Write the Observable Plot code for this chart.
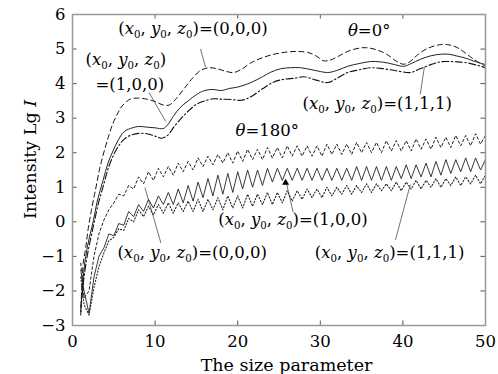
<!DOCTYPE html>
<html><head><meta charset="utf-8">
<script src="https://cdn.jsdelivr.net/npm/d3@7"></script>
<script src="https://cdn.jsdelivr.net/npm/@observablehq/plot@0.6"></script>
<style>body{margin:0;background:#fff} svg{display:block}</style>
</head><body><div id="chart"></div>
<script>
// ---- data ----
const xTicks = [0, 10, 20, 30, 40, 50];
const yTicks = [-3, -2, -1, 0, 1, 2, 3, 4, 5, 6];

// theta = 0 deg
const x0_000 = [1.0,1.3,1.6,1.9,2.3,2.8,3.3,3.9,4.4,4.9,5.5,6.0,7.0,8.0,9.0,10.0,11.0,11.7,12.5,13.5,14.5,15.5,16.5,17.5,18.5,19.5,20.5,21.6,23.0,25.0,27.0,28.5,29.5,30.4,31.2,32.1,33.5,35.3,36.8,38.1,39.2,40.1,41.0,41.8,43.0,44.6,45.6,46.6,47.6,48.6,50.0];
const y0_000 = [-2.7,-1.2,-0.75,-0.2,0.35,0.95,1.55,2.1,2.5,2.85,3.15,3.35,3.55,3.58,3.55,3.48,3.38,3.38,3.55,3.85,4.15,4.38,4.46,4.43,4.36,4.32,4.42,4.6,4.75,4.88,4.93,4.9,4.8,4.66,4.68,4.78,4.95,5.04,4.98,4.84,4.65,4.56,4.66,4.84,5.02,5.13,5.12,5.04,4.88,4.7,4.5];
const x0_100 = [1.0,1.3,1.6,2.0,2.5,3.0,3.7,4.3,4.9,5.5,6.2,7.0,8.0,9.0,10.0,11.0,11.5,12.2,13.0,14.0,15.0,16.0,17.0,18.0,19.0,20.0,21.6,23.0,24.0,25.2,26.4,27.6,29.0,30.0,30.9,32.0,33.3,34.7,36.1,37.2,38.1,39.0,40.1,41.0,42.1,43.3,44.6,45.6,46.5,47.4,48.6,50.0];
const y0_100 = [-2.5,-1.6,-1.0,-0.5,0.0,0.6,1.2,1.7,2.05,2.35,2.6,2.7,2.76,2.74,2.72,2.7,2.8,3.05,3.3,3.5,3.68,3.8,3.83,3.8,3.86,3.9,4.03,4.2,4.33,4.43,4.46,4.46,4.4,4.35,4.32,4.38,4.5,4.58,4.64,4.63,4.6,4.55,4.5,4.58,4.7,4.8,4.85,4.85,4.8,4.75,4.65,4.55];
const x0_111 = [1.0,1.3,1.7,2.1,2.6,3.1,3.8,4.4,5.0,5.6,6.2,7.0,8.0,9.0,10.0,10.8,11.5,12.3,13.1,14.0,15.0,16.0,17.0,18.0,19.2,20.5,21.6,23.0,24.4,25.5,27.0,28.0,29.5,30.9,32.0,33.3,34.7,36.1,37.3,38.5,39.7,40.9,42.0,43.4,44.5,45.4,46.6,47.8,49.0,50.0];
const y0_111 = [-2.6,-1.8,-1.1,-0.6,-0.05,0.5,1.1,1.6,1.95,2.2,2.38,2.5,2.56,2.55,2.48,2.42,2.5,2.75,2.98,3.2,3.4,3.5,3.56,3.55,3.54,3.52,3.62,3.85,4.05,4.12,4.16,4.2,4.1,4.03,4.15,4.32,4.4,4.46,4.44,4.4,4.35,4.32,4.42,4.55,4.63,4.64,4.63,4.6,4.53,4.46];

// theta = 180 deg (shared x samples)
const x180 = [1.0,1.4,2.0,2.6,3.2,3.8,4.4,5.0,5.6,6.2,6.8,7.4,8.0,8.6,9.2,9.8,10.4,11.0,11.6,12.2,12.8,13.4,14.0,14.6,15.2,15.8,16.4,17.0,17.6,18.2,18.8,19.4,20.0,20.6,21.2,21.8,22.4,23.0,23.6,24.2,24.8,25.4,26.0,26.6,27.2,27.8,28.4,29.0,29.6,30.2,30.8,31.4,32.0,32.6,33.2,33.8,34.4,35.0,35.6,36.2,36.8,37.4,38.0,38.6,39.2,39.8,40.4,41.0,41.6,42.2,42.8,43.4,44.0,44.6,45.2,45.8,46.4,47.0,47.6,48.2,48.8,49.4,50.0];
const y180_000 = [-1.2,-2.2,-2.0,-1.0,-0.35,0.05,0.35,0.55,0.8,0.75,1.05,0.95,1.3,1.1,1.45,1.2,1.55,1.3,1.6,1.35,1.7,1.45,1.75,1.5,1.85,1.6,1.9,1.65,1.95,1.7,2.0,1.7,2.05,1.75,2.1,1.8,2.1,1.8,2.15,1.85,2.15,1.85,2.2,1.9,2.2,1.9,2.2,1.9,2.2,1.9,2.25,1.95,2.25,1.95,2.25,1.95,2.3,2.0,2.3,2.0,2.3,2.0,2.35,2.05,2.35,2.05,2.35,2.05,2.4,2.1,2.4,2.1,2.45,2.15,2.45,2.15,2.5,2.2,2.5,2.2,2.55,2.25,2.5];
const y180_100 = [-1.4,-2.0,-2.65,-1.6,-1.0,-0.75,-0.35,-0.4,-0.05,-0.1,0.3,0.15,0.5,0.3,0.65,0.4,0.75,0.5,0.85,0.5,0.95,0.55,1.05,0.6,1.15,0.7,1.25,0.75,1.35,0.8,1.4,0.85,1.45,0.95,1.5,1.0,1.5,1.05,1.55,1.15,1.55,1.2,1.55,1.2,1.55,1.2,1.55,1.2,1.55,1.2,1.55,1.2,1.55,1.2,1.55,1.2,1.6,1.2,1.6,1.2,1.6,1.2,1.6,1.2,1.6,1.25,1.65,1.25,1.65,1.3,1.7,1.3,1.75,1.35,1.8,1.4,1.8,1.45,1.85,1.45,1.85,1.5,1.8];
const y180_111 = [-1.6,-2.4,-2.7,-1.9,-1.3,-0.9,-0.55,-0.45,-0.2,-0.25,0.1,0.0,0.35,0.15,0.45,0.2,0.5,0.25,0.55,0.25,0.55,0.3,0.6,0.3,0.65,0.3,0.65,0.35,0.7,0.35,0.75,0.4,0.75,0.4,0.8,0.45,0.8,0.5,0.85,0.5,0.85,0.55,0.9,0.6,0.9,0.65,0.95,0.7,0.95,0.7,1.0,0.75,1.0,0.8,1.05,0.8,1.05,0.85,1.1,0.85,1.1,0.9,1.1,0.9,1.15,0.9,1.15,0.95,1.2,0.95,1.2,1.0,1.25,1.0,1.25,1.05,1.3,1.05,1.3,1.1,1.35,1.1,1.35];

// annotations (text and anchor in data units)
const annText = ["(x0, y0, z0)=(0,0,0)", "θ=0°", "(x0, y0, z0)", "=(1,0,0)", "(x0, y0, z0)=(1,1,1)", "θ=180°", "(x0, y0, z0)=(1,0,0)", "(x0, y0, z0)=(0,0,0)", "(x0, y0, z0)=(1,1,1)"];
const annX = [5.6, 33.4, 1.63, 2.84, 27.9, 19.8, 17.7, 5.5, 29.4];
const annY = [5.41, 5.35, 4.51, 3.81, 3.26, 2.47, -0.12, -1.05, -1.05];
// leader lines: x1, y1, x2, y2
const leadX1 = [15.5, 9.25, 42.1, 26.7, 10.7, 39.1];
const leadY1 = [5.0, 3.75, 3.69, 0.29, -0.61, -0.52];
const leadX2 = [16.1, 11.3, 42.6, 25.8, 8.77, 40.9];
const leadY2 = [4.48, 2.9, 4.48, 1.22, 0.99, 1.08];
const arrowTipX = [25.8], arrowTipY = [1.22];

const xLabel = "The size parameter";
const yLabel = "Intensity Lg ";
const yLabelItalic = "I";

// ---- build ----
const pts = (xs, ys) => xs.map((x, i) => ({x, y: ys[i]}));
const leaders = leadX1.map((d, i) => ({x1: d, y1: leadY1[i], x2: leadX2[i], y2: leadY2[i]}));
const innerX = xTicks.filter(d => d > 0 && d < 50);
const innerY = yTicks.filter(d => d > -3 && d < 6);

const chart = Plot.plot({
  width: 498, height: 374,
  marginLeft: 72, marginRight: 13, marginTop: 14, marginBottom: 49,
  style: {fontFamily: "'DejaVu Serif', serif", fontSize: "16.5px", background: "white", color: "black"},
  x: {domain: [0, 50], ticks: xTicks, tickSize: 0, tickPadding: 10, label: null},
  y: {domain: [-3, 6], ticks: yTicks, tickSize: 0, tickPadding: 7, label: null},
  marks: [
    // inward ticks on all sides
    Plot.ruleX(innerX, {x: d => d, y1: -3, y2: -2.87, stroke: "#555"}),
    Plot.ruleX(innerX, {x: d => d, y1: 6, y2: 5.87, stroke: "#555"}),
    Plot.ruleY(innerY, {y: d => d, x1: 0, x2: 0.55, stroke: "#555"}),
    Plot.ruleY(innerY, {y: d => d, x1: 50, x2: 49.45, stroke: "#555"}),
    // theta = 0
    Plot.line(pts(x0_000, y0_000), {x: "x", y: "y", stroke: "#111", strokeWidth: 1, strokeDasharray: "5,3.5", curve: "catmull-rom"}),
    Plot.line(pts(x0_100, y0_100), {x: "x", y: "y", stroke: "#222", strokeWidth: 1, curve: "catmull-rom"}),
    Plot.line(pts(x0_111, y0_111), {x: "x", y: "y", stroke: "#111", strokeWidth: 1.1, strokeDasharray: "7,2.5,1.5,2.5", curve: "catmull-rom"}),
    // theta = 180
    Plot.line(pts(x180, y180_000), {x: "x", y: "y", stroke: "#222", strokeWidth: 1, strokeDasharray: "2.5,2.5"}),
    Plot.line(pts(x180, y180_100), {x: "x", y: "y", stroke: "#222", strokeWidth: 0.9}),
    Plot.line(pts(x180, y180_111), {x: "x", y: "y", stroke: "#222", strokeWidth: 1.1, strokeDasharray: "1.2,2"}),
    // leaders
    Plot.link(leaders, {x1: "x1", y1: "y1", x2: "x2", y2: "y2", stroke: "#333", strokeWidth: 0.7}),
    Plot.dot(arrowTipX.map((x, i) => ({x, y: arrowTipY[i]})), {x: "x", y: "y", symbol: "triangle", r: 2.6, fill: "black", stroke: "none", dy: 3}),
    Plot.frame({stroke: "#999", strokeWidth: 1.5})
  ]
});
document.getElementById("chart").appendChild(chart);

// scales from the plot
function scaleFn(name) {
  const s = chart.scale(name);
  if (s && typeof s.apply === "function") return v => s.apply(v);
  const [d0, d1] = s.domain, [r0, r1] = s.range;
  return v => r0 + (v - d0) * (r1 - r0) / (d1 - d0);
}
const sx = scaleFn("x"), sy = scaleFn("y");
const svg = d3.select(chart);

function rich(str, px, py, size) {
  const t = svg.append("text").attr("x", px).attr("y", py)
    .attr("text-anchor", "start")
    .attr("font-size", size).attr("fill", "black")
    .attr("font-family", "'DejaVu Serif', serif");
  let prev = "", shift = 0;
  for (const ch of str) {
    let style = "n";
    if ("xyzθ".includes(ch)) style = "i";
    else if (ch === "0" && "xyz".includes(prev)) style = "s";
    const ts = t.append("tspan").text(ch);
    if (style === "i") ts.attr("font-style", "italic");
    if (style === "s") { ts.attr("font-size", size * 0.62).attr("dy", 4 - shift); shift = 4; }
    else if (shift) { ts.attr("dy", -shift); shift = 0; }
    prev = ch;
  }
}
annText.forEach((s, i) => rich(s, sx(annX[i]), sy(annY[i]), 16.5));

// axis titles
svg.append("text").attr("x", (sx(0) + sx(50)) / 2 + 8).attr("y", 371)
  .attr("text-anchor", "middle").attr("font-size", 17.5).attr("fill", "black")
  .attr("font-family", "'DejaVu Serif', serif").text(xLabel);
const yl = svg.append("text").attr("transform", `translate(36,${(sy(-3) + sy(6)) / 2 - 10}) rotate(-90)`)
  .attr("text-anchor", "middle").attr("font-size", 17.5).attr("fill", "black")
  .attr("font-family", "'DejaVu Serif', serif");
yl.append("tspan").text(yLabel);
yl.append("tspan").attr("font-style", "italic").text(yLabelItalic);
</script>
</body></html>
